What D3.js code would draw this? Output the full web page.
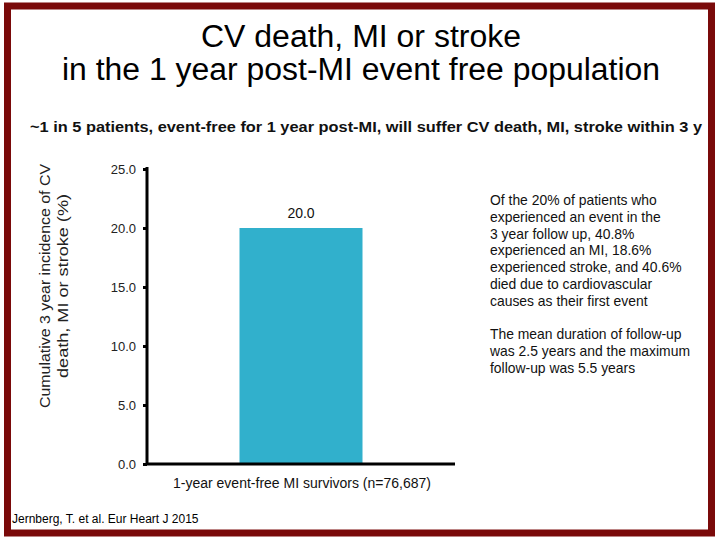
<!DOCTYPE html>
<html><head><meta charset="utf-8">
<script src="https://cdn.jsdelivr.net/npm/d3@7"></script>
<style>body{margin:0;background:#fff}svg{display:block}text{font-family:"Liberation Sans",Arial,sans-serif}</style>
</head><body>
<script>
const categories = ["1-year event-free MI survivors (n=76,687)"];
const values = [20.0];
const yTicks = [0, 5, 10, 15, 20, 25];
const titleLines = ["CV death, MI or stroke", "in the 1 year post-MI event free population"];
const subtitle = "~1 in 5 patients, event-free for 1 year post-MI, will suffer CV death, MI, stroke within 3 y";
const yTitleLines = ["Cumulative 3 year incidence of CV", "death, MI or stroke (%)"];
const note1 = ["Of the 20% of patients who", "experienced an event in the", "3 year follow up, 40.8%", "experienced an MI, 18.6%", "experienced stroke, and 40.6%", "died due to cardiovascular", "causes as their first event"];
const note2 = ["The mean duration of follow-up", "was 2.5 years and the maximum", "follow-up was 5.5 years"];
const source = "Jernberg, T. et al. Eur Heart J 2015";

const W = 720, H = 540;
const svg = d3.select("body").append("svg").attr("width", W).attr("height", H);

// frame
svg.append("rect").attr("x", 7.5).attr("y", 6).attr("width", 704).attr("height", 527)
  .attr("fill", "none").attr("stroke", "#7a0a0a").attr("stroke-width", 7);

// title
const titleW = [320, 598];
svg.selectAll(".title").data(titleLines).join("text")
  .attr("x", 361).attr("y", (d, i) => 47 + i * 33)
  .attr("text-anchor", "middle").attr("font-size", 31).attr("fill", "#000")
  .attr("textLength", (d, i) => titleW[i]).attr("lengthAdjust", "spacingAndGlyphs")
  .text(d => d);

svg.append("text").attr("x", 366).attr("y", 132).attr("text-anchor", "middle")
  .attr("font-size", 15).attr("font-weight", "bold").attr("fill", "#111")
  .attr("textLength", 672).attr("lengthAdjust", "spacingAndGlyphs")
  .text(subtitle);

const x0 = 147, xEnd = 455;
const y = d3.scaleLinear().domain([0, 25]).range([464, 169]);
const x = d3.scaleBand().domain(categories).range([178, 424]).paddingInner(0).paddingOuter(0.5);

const g = svg.append("g");
// bars
g.selectAll(".bar").data(values).join("rect")
  .attr("x", (d, i) => x(categories[i])).attr("width", x.bandwidth())
  .attr("y", d => y(d)).attr("height", d => y(0) - y(d))
  .attr("fill", "#31b0cc");
g.selectAll(".lbl").data(values).join("text")
  .attr("x", (d, i) => x(categories[i]) + x.bandwidth() / 2)
  .attr("y", d => y(d) - 10).attr("text-anchor", "middle")
  .attr("font-size", 14).attr("fill", "#111").text(d => d.toFixed(1));

// y axis
const yAxis = g.append("g").attr("transform", `translate(${x0},0)`)
  .call(d3.axisLeft(y).tickValues(yTicks).tickFormat(d3.format(".1f")).tickSize(4).tickPadding(7));
yAxis.select(".domain").attr("stroke", "#000").attr("stroke-width", 3).attr("d", `M0,${y(25) - 2}V${y(0) + 1}`);
yAxis.selectAll(".tick line").attr("stroke", "#000").attr("stroke-width", 3);
yAxis.selectAll(".tick text").attr("font-size", 13).attr("fill", "#222").attr("font-family", "Liberation Sans, Arial, sans-serif");

// x axis line
g.append("line").attr("x1", x0 - 1).attr("x2", xEnd).attr("y1", y(0)).attr("y2", y(0))
  .attr("stroke", "#000").attr("stroke-width", 3);
g.selectAll(".xlbl").data(categories).join("text")
  .attr("x", d => x(d) + x.bandwidth() / 2 + 1).attr("y", 488).attr("text-anchor", "middle")
  .attr("font-size", 14).attr("fill", "#111").text(d => d);

// y title
const yTitleW = [244, 184];
svg.append("text").attr("transform", "translate(50,286) rotate(-90)")
  .attr("text-anchor", "middle").attr("font-size", 15).attr("fill", "#222")
  .selectAll("tspan").data(yTitleLines).join("tspan")
  .attr("x", 0).attr("dy", (d, i) => i === 0 ? 0 : 18)
  .attr("textLength", (d, i) => yTitleW[i]).attr("lengthAdjust", "spacingAndGlyphs")
  .text(d => d);

// notes
const notes = svg.append("g").attr("font-size", 13.9).attr("fill", "#111");
notes.selectAll(".n1").data(note1).join("text").attr("x", 490).attr("y", (d, i) => 205 + i * 16.8).text(d => d);
notes.selectAll(".n2").data(note2).join("text").attr("x", 490).attr("y", (d, i) => 339 + i * 17).text(d => d);

svg.append("text").attr("x", 12).attr("y", 523).attr("font-size", 12).attr("fill", "#000").text(source);
</script>
</body></html>
